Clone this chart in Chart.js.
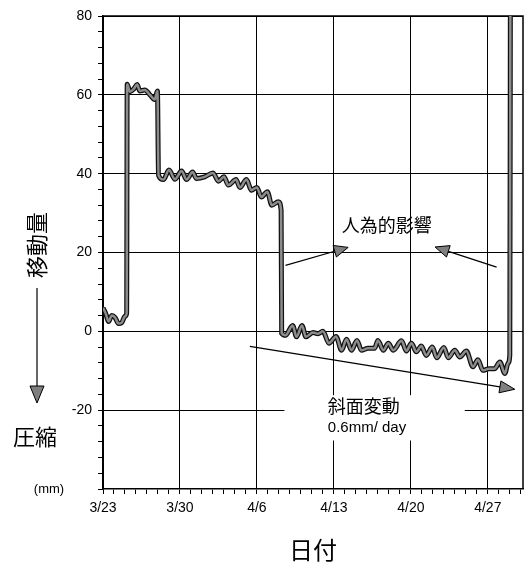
<!DOCTYPE html>
<html>
<head>
<meta charset="utf-8">
<script src="https://cdn.jsdelivr.net/npm/chart.js@4.4.0/dist/chart.umd.min.js"></script>
<style>
  html, body { margin: 0; padding: 0; background: #fff; }
  #wrap { width: 527px; height: 565px; }
</style>
</head>
<body>
<div id="wrap"><canvas id="myChart" width="527" height="565"></canvas></div>
<script>
// days counted from 3/23
const days = [
  0, 0.25, 0.5, 0.8, 1.1, 1.4, 1.7, 2.0, 2.15,
  2.2, 2.45, 2.8, 3.1, 3.35, 3.8, 4.3, 4.7, 4.95,
  5.05, 5.5, 6.0, 6.55, 7.15, 7.6, 8.15, 8.5, 9.25, 10.0, 10.5, 11.0, 11.4,
  12.1, 12.45, 13.05, 13.5, 14.0, 14.4, 14.95, 15.35, 15.95, 16.2,
  16.25, 16.6, 17.25, 17.6, 18.1, 18.45, 19.1, 19.55, 20.0, 20.55, 21.2, 21.7,
  22.15, 22.6, 23.1, 23.5, 24.1, 24.7, 25.0, 25.5, 25.95, 26.4, 27.15, 27.6,
  28.05, 28.5, 28.95, 29.4, 29.95, 30.35, 31.0, 31.4, 32.0, 32.45, 33.05, 33.65,
  34.1, 34.55, 35.1, 35.6, 36.1, 36.55, 36.85, 37.0, 37.05
];
// displacement (mm)
const disp = [
  6, 4.5, 2.5, 4, 3.5, 2, 2.2, 3.8, 4.5,
  62.7, 60.8, 61.5, 62.6, 61, 61.2, 59.9, 58.8, 61,
  39.6, 38.5, 40.9, 38.6, 40.7, 38.5, 40.4, 38.8, 39.2, 40.2, 38.1, 39.2, 37.1,
  38.5, 36.5, 38.5, 35.8, 36.5, 34.1, 35.4, 32, 32.9, 30.7,
  -0.5, -1, 1.5, -1.4, 1.5, -1.4, -0.3, -0.6, 0, -3, -1.3, -4.8,
  -2, -4.8, -2.3, -4.8, -4.3, -4.3, -2.3, -4.8, -3, -4.8, -2.4, -5,
  -3, -5.2, -3.7, -6.1, -4, -6.7, -4.1, -6.7, -4.8, -6.5, -5, -9,
  -7.2, -9.9, -9.5, -9.5, -7.8, -10.7, -8, -6, 82
];
const weekLabels = ['3/23', '3/30', '4/6', '4/13', '4/20', '4/27'];
const yLabels = ['80', '60', '40', '20', '0', '-20'];

const toPoints = () => days.map((d, i) => ({ x: d, y: disp[i] }));
const latin = '"Liberation Sans", Arial, sans-serif';
const cjk = '"Noto Sans CJK JP", sans-serif';

function arrow(ctx, x1, y1, x2, y2, len, half) {
  const a = Math.atan2(y2 - y1, x2 - x1);
  const bx = x2 - len * Math.cos(a), by = y2 - len * Math.sin(a);
  ctx.save();
  ctx.beginPath();
  ctx.moveTo(x1, y1);
  ctx.lineTo(bx, by);
  ctx.strokeStyle = '#000';
  ctx.lineWidth = 1.2;
  ctx.stroke();
  ctx.beginPath();
  ctx.moveTo(x2, y2);
  ctx.lineTo(bx + half * Math.sin(a), by - half * Math.cos(a));
  ctx.lineTo(bx - half * Math.sin(a), by + half * Math.cos(a));
  ctx.closePath();
  ctx.fillStyle = '#7f7f7f';
  ctx.fill();
  ctx.lineWidth = 1;
  ctx.stroke();
  ctx.restore();
}

const notes = {
  id: 'notes',
  beforeDatasetsDraw(chart) {
    const { ctx, chartArea: a } = chart;
    ctx.save();
    ctx.strokeStyle = '#000';
    ctx.lineWidth = 1.5;
    ctx.beginPath();
    ctx.moveTo(a.left, a.top);
    ctx.lineTo(a.right, a.top);
    ctx.lineTo(a.right, a.bottom);
    ctx.stroke();
    ctx.restore();
  },
  afterDatasetsDraw(chart) {
    const { ctx } = chart;
    const xs = chart.scales.x, ys = chart.scales.y;
    const px = v => xs.getPixelForValue(v), py = v => ys.getPixelForValue(v);
    ctx.save();
    // white box behind slope label
    ctx.fillStyle = '#fff';
    ctx.fillRect(px(16.5), py(-16.2), px(32.9) - px(16.5), py(-27.7) - py(-16.2));

    arrow(ctx, px(16.6), py(16.75), px(22.3), py(21.3), 14, 6);
    arrow(ctx, px(35.8), py(16.3), px(30.2), py(21.4), 14, 6);
    arrow(ctx, px(13.36), py(-3.8), px(37.45), py(-14.7), 15, 6);

    ctx.fillStyle = '#000';
    ctx.textBaseline = 'middle';
    ctx.textAlign = 'center';
    ctx.font = '18px ' + cjk;
    ctx.fillText('人為的影響', px(25.8), py(26.9));
    ctx.textAlign = 'left';
    ctx.fillText('斜面変動', px(20.45), py(-19.0));
    ctx.font = '15px ' + latin;
    ctx.fillText('0.6mm/ day', px(20.45), py(-24.4));

    // y axis caption
    ctx.save();
    ctx.translate(37, 245);
    ctx.rotate(-Math.PI / 2);
    ctx.textAlign = 'center';
    ctx.font = '22px ' + cjk;
    ctx.fillText('移動量', 0, 0);
    ctx.restore();
    arrow(ctx, 37, 288, 37, 403, 17, 7);
    ctx.fillStyle = '#000';
    ctx.textAlign = 'center';
    ctx.font = '22px ' + cjk;
    ctx.fillText('圧縮', 35, 437);
    ctx.font = '13px ' + latin;
    ctx.fillText('(mm)', 49, 489);
    ctx.restore();
  }
};

const ctx = document.getElementById('myChart');
// first dataset is painted last, so the grey core goes first
const chart = new Chart(ctx, {
  type: 'line',
  data: {
    datasets: [{
      data: toPoints(),
      borderColor: '#8c8c8c',
      borderWidth: 2.5,
      pointRadius: 0,
      cubicInterpolationMode: 'monotone',
      clip: 0
    }, {
      data: toPoints(),
      borderColor: '#111',
      borderWidth: 5,
      pointRadius: 0,
      cubicInterpolationMode: 'monotone',
      clip: 0
    }]
  },
  options: {
    responsive: false,
    animation: false,
    devicePixelRatio: 1,
    layout: { padding: { top: 16, right: 4, left: 0, bottom: 0 } },
    plugins: { legend: { display: false }, tooltip: { enabled: false } },
    scales: {
      x: {
        type: 'linear',
        min: 0,
        max: 38.2,
        afterFit: s => { s.height = 76; },
        ticks: {
          stepSize: 1,
          includeBounds: false,
          autoSkip: false,
          maxRotation: 0,
          padding: 6,
          color: '#000',
          font: { family: latin, size: 14 },
          callback: v => (v % 7 === 0 ? weekLabels[v / 7] : '')
        },
        grid: {
          color: c => (c.tick && c.tick.value % 7 === 0 ? '#000' : 'rgba(0,0,0,0)'),
          tickColor: '#000',
          tickLength: 5,
          lineWidth: 1
        },
        border: { color: '#000', width: 1.5 },
        title: {
          display: true,
          text: '日付',
          color: '#000',
          font: { family: cjk, size: 24 },
          padding: { top: 4, bottom: 1 }
        }
      },
      y: {
        min: -40,
        max: 80,
        afterFit: s => { s.width = 103; },
        ticks: {
          stepSize: 4,
          autoSkip: false,
          padding: 6,
          color: '#000',
          font: { family: latin, size: 14 },
          callback: v => (v % 20 === 0 && v > -40 ? yLabels[(80 - v) / 20] : '')
        },
        grid: {
          color: c => (c.tick && c.tick.value % 20 === 0 && c.tick.value > -40 ? '#000' : 'rgba(0,0,0,0)'),
          tickColor: '#000',
          tickLength: 5,
          lineWidth: 1
        },
        border: { color: '#000', width: 1.5 }
      }
    }
  },
  plugins: [notes]
});
</script>
</body>
</html>
